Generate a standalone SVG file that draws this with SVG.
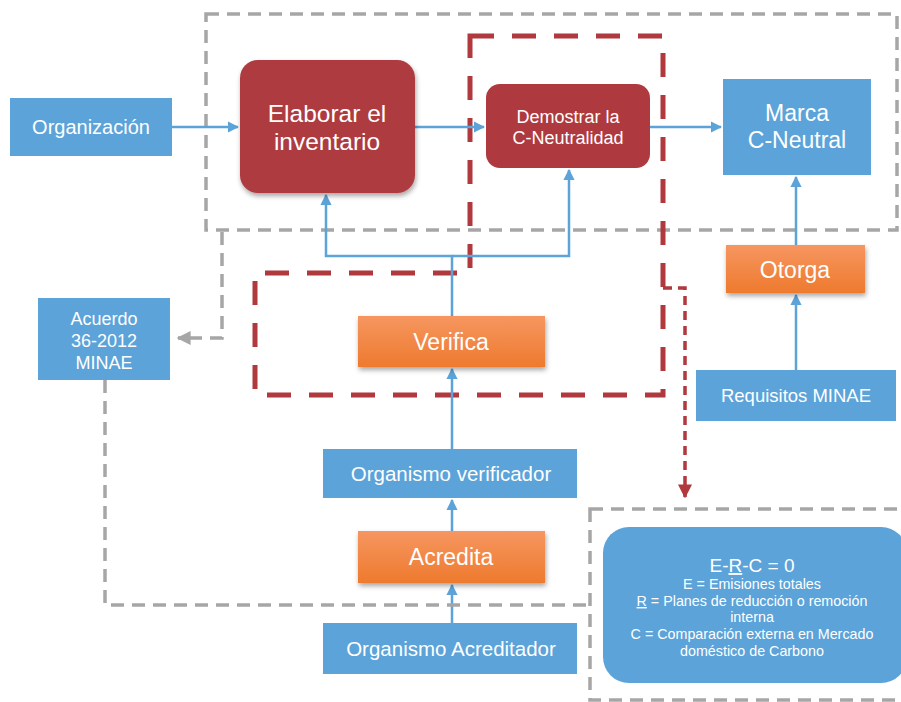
<svg xmlns="http://www.w3.org/2000/svg" width="901" height="702" viewBox="0 0 901 702">
<defs>
<linearGradient id="og" x1="0" y1="0" x2="0" y2="1"><stop offset="0" stop-color="#F69660"/><stop offset="1" stop-color="#EE7A2E"/></linearGradient>
<filter id="sh" x="-10%" y="-10%" width="125%" height="140%"><feDropShadow dx="1" dy="3" stdDeviation="2.5" flood-color="#000" flood-opacity="0.35"/></filter>
<marker id="ab" viewBox="0 0 10 10" refX="9" refY="5" markerWidth="4.5" markerHeight="4.5" orient="auto"><path d="M0,0 L10,5 L0,10 z" fill="#5BA3D9"/></marker>
<marker id="ag" viewBox="0 0 10 10" refX="9" refY="5" markerWidth="4" markerHeight="4" orient="auto"><path d="M0,0 L10,5 L0,10 z" fill="#A6A6A6"/></marker>
<marker id="ar" viewBox="0 0 10 10" refX="9" refY="5" markerWidth="4" markerHeight="4" orient="auto"><path d="M0,0 L10,5 L0,10 z" fill="#B0393E"/></marker>
</defs>
<style>
.blue{fill:#5BA3D9}
.red{fill:#AE3A3F}
.org{fill:url(#og)}
.t{font-family:"Liberation Sans",Arial,sans-serif;fill:#fff;text-anchor:middle}
.c{fill:none;stroke:#5BA3D9;stroke-width:2.5}
.gd{fill:none;stroke:#A6A6A6;stroke-width:3.5;stroke-dasharray:13,8}
.rd{fill:none;stroke:#B0393E;stroke-width:5;stroke-dasharray:24,18}
</style>
<g id="regions">
<rect class="gd" x="206" y="14" width="691" height="216"/>
<polygon class="rd" points="470,36 663,36 663,395 255,395 255,273 470,273"/>
<rect class="gd" x="590" y="509" width="330" height="191"/>
</g>
<g id="connectors">
<line class="c" x1="172" y1="127" x2="238" y2="127" marker-end="url(#ab)"/>
<line class="c" x1="415" y1="127" x2="484" y2="127" marker-end="url(#ab)"/>
<line class="c" x1="650" y1="127" x2="721" y2="127" marker-end="url(#ab)"/>
<polyline class="c" points="452,316 452,256 326,256 326,195" marker-end="url(#ab)"/>
<polyline class="c" points="452,256 569,256 569,170" marker-end="url(#ab)"/>
<line class="c" x1="452" y1="449" x2="452" y2="369" marker-end="url(#ab)"/>
<line class="c" x1="452" y1="531" x2="452" y2="500" marker-end="url(#ab)"/>
<line class="c" x1="452" y1="623" x2="452" y2="585" marker-end="url(#ab)"/>
<line class="c" x1="796" y1="245" x2="796" y2="177" marker-end="url(#ab)"/>
<line class="c" x1="796" y1="370" x2="796" y2="295" marker-end="url(#ab)"/>
<polyline class="gd" points="222,232 222,338 178,338" marker-end="url(#ag)"/>
<polyline class="gd" points="105,380 105,605 590,605"/>
<polyline fill="none" stroke="#B0393E" stroke-width="3.5" stroke-dasharray="9,6" points="663,288 685,288 685,497" marker-end="url(#ar)"/>
</g>
<g id="organizacion"><rect class="blue" x="10" y="98" width="162" height="58"/><text class="t" x="91" y="134" font-size="20">Organización</text></g>
<g id="elaborar"><rect class="red" x="240" y="60" width="175" height="133" rx="18" filter="url(#sh)"/><text class="t" x="327" y="122" font-size="24.5">Elaborar el</text><text class="t" x="327" y="150" font-size="24.5">inventario</text></g>
<g id="demostrar"><rect class="red" x="486" y="84" width="164" height="84" rx="14"/><text class="t" x="568" y="123" font-size="18">Demostrar la</text><text class="t" x="568" y="144" font-size="18">C-Neutralidad</text></g>
<g id="marca"><rect class="blue" x="723" y="79" width="148" height="96"/><text class="t" x="797" y="121" font-size="23">Marca</text><text class="t" x="797" y="148" font-size="23">C-Neutral</text></g>
<g id="acuerdo"><rect class="blue" x="38" y="298" width="132" height="82"/><text class="t" x="104" y="325" font-size="18">Acuerdo</text><text class="t" x="104" y="347" font-size="18">36-2012</text><text class="t" x="104" y="369" font-size="18">MINAE</text></g>
<g id="verifica"><rect class="org" x="358" y="316" width="187" height="51" filter="url(#sh)"/><text class="t" x="451" y="350" font-size="23">Verifica</text></g>
<g id="otorga"><rect class="org" x="726" y="245" width="139" height="48" filter="url(#sh)"/><text class="t" x="795" y="278" font-size="23">Otorga</text></g>
<g id="requisitos"><rect class="blue" x="696" y="370" width="200" height="51"/><text class="t" x="796" y="402" font-size="18.5">Requisitos MINAE</text></g>
<g id="verificador"><rect class="blue" x="323" y="449" width="254" height="49"/><text class="t" x="451" y="481" font-size="20.5">Organismo verificador</text></g>
<g id="acredita"><rect class="org" x="358" y="531" width="187" height="52" filter="url(#sh)"/><text class="t" x="451" y="565" font-size="23">Acredita</text></g>
<g id="acreditador"><rect class="blue" x="323" y="623" width="254" height="51"/><text class="t" x="451" y="656" font-size="20.5">Organismo Acreditador</text></g>
<g id="erc"><rect class="blue" x="603" y="527" width="304" height="156" rx="26"/>
<text class="t" x="752" y="572" font-size="19">E-<tspan text-decoration="underline">R</tspan>-C = 0</text>
<text class="t" x="752" y="589" font-size="14.3">E = Emisiones totales</text>
<text class="t" x="752" y="606" font-size="14.3"><tspan text-decoration="underline">R</tspan> = Planes de reducción o remoción</text>
<text class="t" x="752" y="622" font-size="14.3">interna</text>
<text class="t" x="752" y="639" font-size="14.3">C = Comparación externa en Mercado</text>
<text class="t" x="752" y="656" font-size="14.3">doméstico de Carbono</text>
</g>
</svg>
